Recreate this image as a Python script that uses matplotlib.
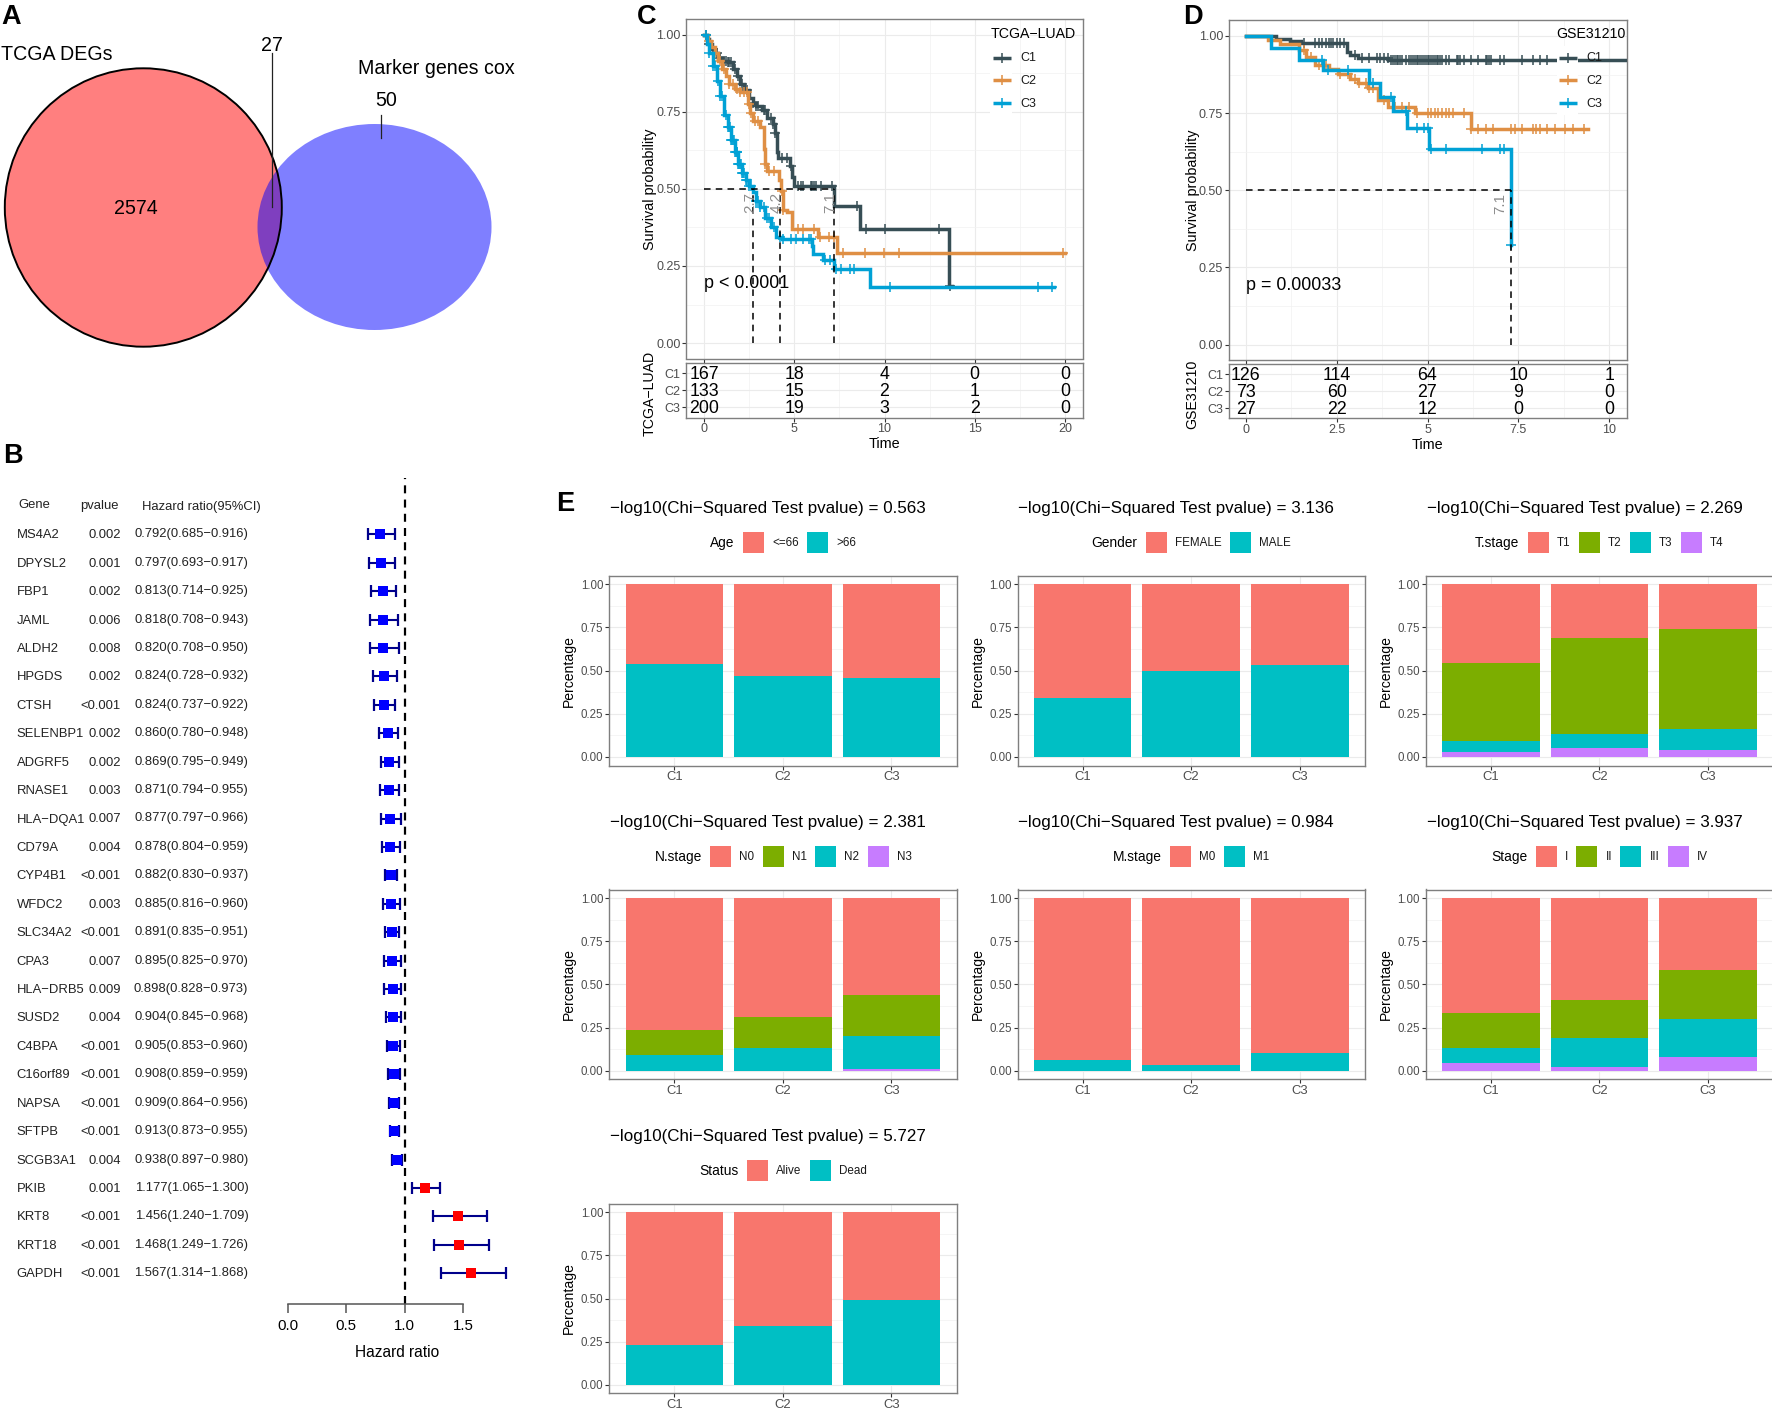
import matplotlib
matplotlib.use("Agg")
import matplotlib.pyplot as plt
from matplotlib.patches import Ellipse, Rectangle
import numpy as np

plt.rcParams['font.family'] = ['Liberation Sans', 'DejaVu Sans']
plt.rcParams['axes.unicode_minus'] = True

W, H = 1772, 1410

# forest plot
genes = ["MS4A2", "DPYSL2", "FBP1", "JAML", "ALDH2", "HPGDS", "CTSH", "SELENBP1", "ADGRF5", "RNASE1",
         "HLA\u2212DQA1", "CD79A", "CYP4B1", "WFDC2", "SLC34A2", "CPA3", "HLA\u2212DRB5", "SUSD2", "C4BPA",
         "C16orf89", "NAPSA", "SFTPB", "SCGB3A1", "PKIB", "KRT8", "KRT18", "GAPDH"]
pvals = ["0.002", "0.001", "0.002", "0.006", "0.008", "0.002", "<0.001", "0.002", "0.002", "0.003",
         "0.007", "0.004", "<0.001", "0.003", "<0.001", "0.007", "0.009", "0.004", "<0.001",
         "<0.001", "<0.001", "<0.001", "0.004", "0.001", "<0.001", "<0.001", "<0.001"]
hr = [0.792, 0.797, 0.813, 0.818, 0.820, 0.824, 0.824, 0.860, 0.869, 0.871, 0.877, 0.878, 0.882, 0.885,
      0.891, 0.895, 0.898, 0.904, 0.905, 0.908, 0.909, 0.913, 0.938, 1.177, 1.456, 1.468, 1.567]
hr_lo = [0.685, 0.693, 0.714, 0.708, 0.708, 0.728, 0.737, 0.780, 0.795, 0.794, 0.797, 0.804, 0.830, 0.816,
         0.835, 0.825, 0.828, 0.845, 0.853, 0.859, 0.864, 0.873, 0.897, 1.065, 1.240, 1.249, 1.314]
hr_hi = [0.916, 0.917, 0.925, 0.943, 0.950, 0.932, 0.922, 0.948, 0.949, 0.955, 0.966, 0.959, 0.937, 0.960,
         0.951, 0.970, 0.973, 0.968, 0.960, 0.959, 0.956, 0.955, 0.980, 1.300, 1.709, 1.726, 1.868]

# survival curves, TCGA-LUAD
c_t1 = [0, .15, .3, .45, .6, .8, 1.0, 1.3, 1.6, 1.8, 2.0, 2.2, 2.5, 2.7, 2.9, 3.2, 3.5, 3.8, 3.95, 4.05, 4.1,
        4.75, 4.9, 5.0, 7.18, 8.67, 13.6, 13.75]
c_s1 = [1, .985, .97, .955, .94, .925, .915, .91, .89, .865, .84, .82, .795, .78, .77, .755, .73, .71, .68, .62,
        .60, .575, .54, .508, .445, .37, .185, .185]
c_t2 = [0, .2, .4, .6, .8, 1.0, 1.2, 1.4, 1.7, 2.0, 2.45, 2.55, 2.7, 3.1, 3.3, 3.4, 3.5, 4.13, 4.25, 4.35, 4.6,
        4.9, 6.33, 7.38, 20.0]
c_s2 = [1, .98, .96, .94, .915, .89, .865, .84, .825, .815, .775, .745, .72, .70, .63, .58, .557, .53, .492, .43,
        .425, .37, .344, .292, .292]
c_t3 = [0, .15, .3, .5, .7, .9, 1.1, 1.3, 1.5, 1.7, 1.9, 2.1, 2.3, 2.5, 2.7, 2.9, 3.1, 3.4, 3.7, 4.0, 4.3, 5.97,
        6.02, 6.6, 7.2, 9.19, 19.4]
c_s3 = [1, .97, .94, .90, .85, .80, .74, .70, .66, .62, .58, .55, .53, .51, .49, .46, .44, .405, .375, .345, .338,
        .314, .29, .27, .24, .181, .181]
c_cens1 = [0.1, 0.3, 0.5, 0.7, 0.9, 1.0, 1.1, 1.2, 1.3, 1.4, 1.5, 1.7, 1.9, 2.1, 2.4, 2.7, 2.9, 3.0, 3.3, 3.4,
           3.7, 3.8, 3.95, 4.3, 4.6, 4.8, 5.2, 5.4, 5.5, 5.9, 6.0, 6.1, 6.2, 6.5, 7.1, 8.5, 9.0, 10.0, 13.0, 13.65]
c_cens2 = [0.3, 0.6, 0.9, 1.1, 1.4, 1.6, 1.8, 2.0, 2.2, 2.4, 2.5, 2.6, 2.8, 3.0, 3.4, 3.6, 3.9, 4.3, 4.4, 5.2,
           5.5, 6.1, 6.4, 6.9, 7.2, 7.7, 8.9, 9.95, 10.8, 19.9]
c_cens3 = [0.1, 0.3, 0.5, 0.6, 0.8, 0.9, 1.0, 1.2, 1.3, 1.4, 1.45, 1.5, 1.55, 1.6, 1.65, 1.7, 1.75, 1.8, 1.85, 1.9,
           1.95, 2.0, 2.05, 2.1, 2.15, 2.2, 2.3, 2.4, 2.5, 2.6, 2.9, 3.0, 3.1, 3.3, 3.5, 3.6, 3.9, 4.2, 4.4, 4.8,
           5.1, 5.5, 5.8, 5.9, 6.7, 7.0, 7.3, 7.6, 8.1, 8.3, 10.3, 18.5, 19.3]
c_medians = [2.73, 4.2, 7.18]
c_median_labels = ["2.7", "4.2", "7.1"]
c_ticks = [0, 5, 10, 15, 20]
c_risk = [[167, 18, 4, 0, 0], [133, 15, 2, 1, 0], [200, 19, 3, 2, 0]]

# survival curves, GSE31210
d_t1 = [0, .84, 1.2, 1.53, 2.77, 2.86, 3.09, 3.92, 10.6]
d_s1 = [1, .991, .984, .977, .948, .937, .93, .923, .923]
d_t2 = [0, .6, .93, 1.46, 1.66, 1.9, 2.29, 2.54, 2.86, 3.09, 3.37, 3.64, 3.92, 4.65, 6.2, 9.41]
d_s2 = [1, .988, .975, .954, .932, .905, .894, .876, .862, .846, .83, .792, .77, .749, .70, .70]
d_t3 = [0, .7, 1.46, 2.13, 3.39, 3.69, 4.06, 4.44, 5.05, 7.29, 7.3]
d_s3 = [1, .962, .923, .889, .848, .803, .757, .703, .635, .323, .323]
d_cens1 = [1.6, 1.9, 2.0, 2.1, 2.2, 2.3, 2.35, 2.4, 2.5, 2.6, 2.7, 3.0, 3.2, 3.4, 3.6, 3.7, 3.8, 3.9, 4.0, 4.05,
           4.1, 4.15, 4.2, 4.25, 4.3, 4.4, 4.5, 4.55, 4.6, 4.65, 4.7, 4.75, 4.8, 4.85, 4.9, 4.95, 5.0, 5.05, 5.1,
           5.15, 5.2, 5.25, 5.3, 5.35, 5.4, 5.5, 5.6, 5.8, 5.85, 5.9, 6.0, 6.2, 6.4, 6.6, 6.65, 6.7, 6.75, 7.0,
           7.1, 7.6, 7.9, 8.1, 8.3, 8.9]
d_cens2 = [1.6, 1.8, 2.0, 2.2, 2.6, 2.8, 3.0, 3.1, 3.3, 3.4, 3.5, 3.8, 4.1, 4.3, 4.5, 4.7, 5.0, 5.1, 5.2, 5.3,
           5.4, 5.5, 5.6, 5.7, 6.0, 6.2, 6.4, 6.6, 6.8, 7.3, 7.4, 7.6, 7.9, 8.0, 8.1, 8.3, 8.5, 8.8, 9.0, 9.3]
d_cens3 = [2.1, 2.25, 2.8, 3.5, 4.0, 4.4, 4.7, 4.9, 5.0, 5.1, 5.5, 6.5, 7.0, 7.1, 7.3]
d_medians = [7.29]
d_median_labels = ["7.1"]
d_ticks = [0, 2.5, 5, 7.5, 10]
d_tick_labels = ["0", "2.5", "5", "7.5", "10"]
d_risk = [[126, 114, 64, 10, 1], [73, 60, 27, 9, 0], [27, 22, 12, 0, 0]]

# stacked bars
groups = ["C1", "C2", "C3"]
age_title, age_p, age_levels = "Age", "0.563", ["<=66", ">66"]
age_vals = [[.46, .53, .54], [.54, .47, .46]]
gender_title, gender_p, gender_levels = "Gender", "3.136", ["FEMALE", "MALE"]
gender_vals = [[.66, .50, .47], [.34, .50, .53]]
t_title, t_p, t_levels = "T.stage", "2.269", ["T1", "T2", "T3", "T4"]
t_vals = [[.455, .31, .258], [.455, .56, .582], [.06, .08, .12], [.03, .05, .04]]
n_title, n_p, n_levels = "N.stage", "2.381", ["N0", "N1", "N2", "N3"]
n_vals = [[.767, .688, .56], [.141, .183, .24], [.092, .129, .19], [0, 0, .01]]
m_title, m_p, m_levels = "M.stage", "0.984", ["M0", "M1"]
m_vals = [[.94, .967, .90], [.06, .033, .10]]
stage_title, stage_p, stage_levels = "Stage", "3.937", ["I", "II", "III", "IV"]
stage_vals = [[.665, .59, .415], [.205, .22, .287], [.088, .169, .218], [.042, .021, .08]]
status_title, status_p, status_levels = "Status", "5.727", ["Alive", "Dead"]
status_vals = [[.77, .66, .51], [.23, .34, .49]]

km_colors = ["#374E55", "#DF8F44", "#00A1D5"]
col2 = ["#F8766D", "#00BFC4"]
col4 = ["#F8766D", "#7CAE00", "#00BFC4", "#C77CFF"]
border = "#7F7F7F"


def axes_px(left, top, right, bottom):
    return fig.add_axes([left / W, 1 - bottom / H, (right - left) / W, (bottom - top) / H])


def theme_bw(ax):
    ax.set_facecolor("white")
    ax.set_axisbelow(True)
    ax.grid(True, which="major", color="#EBEBEB", lw=0.8)
    ax.grid(True, which="minor", color="#F2F2F2", lw=0.5)
    ax.tick_params(which="minor", length=0)
    for s in ax.spines.values():
        s.set_color(border)
        s.set_linewidth(1.0)


fig = plt.figure(figsize=(W / 100, H / 100), dpi=100, facecolor="white")

# overlay in pixel coordinates for labels and the venn
ov = fig.add_axes([0, 0, 1, 1], zorder=10)
ov.set_xlim(0, W)
ov.set_ylim(H, 0)
ov.axis("off")
ov.patch.set_alpha(0)

for letter, x, y in [("A", 1, 24), ("B", 3, 463), ("C", 637, 24), ("D", 1183, 24), ("E", 556, 511)]:
    ov.text(x, y, letter, fontsize=19.5, fontweight="bold", ha="left", va="baseline", color="black")

# A
ov.add_patch(Ellipse((143.3, 207.5), 277, 278.4, fc=(1, 0, 0, .5), ec="none"))
ov.add_patch(Ellipse((374.5, 227), 234, 206, fc=(0, 0, 1, .5), ec="none"))
ov.add_patch(Ellipse((143.3, 207.5), 277, 278.4, fc="none", ec="black", lw=1.4))
ov.plot([272.3, 272.3], [53, 207], color="#222222", lw=0.9)
ov.plot([380.7, 380.7], [115, 138], color="#222222", lw=0.9)
ov.text(1, 54.5, "TCGA DEGs", fontsize=14.1, ha="left", va="center")
ov.text(358, 68, "Marker genes cox", fontsize=14.1, ha="left", va="center")
ov.text(272.3, 45.8, "27", fontsize=14.1, ha="center", va="center")
ov.text(386.5, 100.5, "50", fontsize=14.1, ha="center", va="center")
ov.text(135.5, 208.8, "2574", fontsize=14.1, ha="center", va="center")

# B
row0, row_h = 534.3, 28.42
axb = axes_px(287.5, 478, 287.5 + 1.95 * 117, 1304)
axb.set_xlim(0, 1.95)
axb.set_ylim((1304 - row0) / row_h, (478 - row0) / row_h)
axb.patch.set_alpha(0)
for side in ["top", "left", "right"]:
    axb.spines[side].set_visible(False)
axb.spines["bottom"].set_bounds(0, 1.5)
axb.spines["bottom"].set_color("#555555")
axb.spines["bottom"].set_linewidth(1.1)
axb.set_yticks([])
axb.set_xticks([0, .5, 1, 1.5])
axb.set_xticklabels(["0.0", "0.5", "1.0", "1.5"], fontsize=10.8)
axb.tick_params(axis="x", length=6.6, width=1.1, color="#555555", pad=4)
axb.axvline(1, color="black", lw=1.6, dashes=(3.6, 2.8), zorder=1)
rows = np.arange(len(genes))
hr_arr = np.array(hr)
axb.hlines(rows, hr_lo, hr_hi, color="#00008B", lw=1.5, zorder=2)
axb.plot(hr_lo, rows, ls="none", marker="|", ms=8, mew=1.6, color="#00008B", zorder=2)
axb.plot(hr_hi, rows, ls="none", marker="|", ms=8, mew=1.6, color="#00008B", zorder=2)
low = hr_arr < 1
axb.plot(hr_arr[low], rows[low], ls="none", marker="s", ms=7.6, mew=0, color="#0000FF", zorder=3)
axb.plot(hr_arr[~low], rows[~low], ls="none", marker="s", ms=7.6, mew=0, color="#FF0000", zorder=3)
ov.text(397, 1352.7, "Hazard ratio", fontsize=11.2, ha="center", va="center")
ov.text(18, 505, "Gene", fontsize=9.4, ha="left", va="center", color="#222222")
ov.text(80.4, 506, "pvalue", fontsize=9.4, ha="left", va="center", color="#222222")
ov.text(142, 507, "Hazard ratio(95%CI)", fontsize=9.4, ha="left", va="center", color="#222222")
for i, g in enumerate(genes):
    y = row0 + i * row_h + 1
    ov.text(16.6, y, g, fontsize=9.4, ha="left", va="center", color="#222222")
    ov.text(121, y, pvals[i], fontsize=9.4, ha="right", va="center", color="#222222")
    ov.text(248.3, y - 1, "%.3f(%.3f\u2212%.3f)" % (hr[i], hr_lo[i], hr_hi[i]), fontsize=9.4, ha="right",
            va="center", color="#222222")


# C, D
def km_panel(left, right, top, bottom, tab_top, tab_bottom, xlim, ticks, tick_labels, minor, curves, censors,
             medians, median_labels, med_dx, risk, name, ptext, key_x, key_bg, label_x, title_right):
    ax = axes_px(left, top, right, bottom)
    theme_bw(ax)
    ax.set_xlim(*xlim)
    ax.set_ylim(-.05, 1.05)
    ax.set_xticks(ticks)
    ax.set_xticks(minor, minor=True)
    ax.set_yticks([0, .25, .5, .75, 1])
    ax.set_yticks([.125, .375, .625, .875], minor=True)
    ax.set_yticklabels(["0.00", "0.25", "0.50", "0.75", "1.00"], fontsize=9.0, color="#4D4D4D")
    ax.set_xticklabels([])
    ax.tick_params(which="major", length=3, width=0.8, color="#333333", pad=0.8)

    for (t, s), cens, col in zip(curves, censors, km_colors):
        t = np.array(t)
        s = np.array(s)
        ax.plot(t, s, drawstyle="steps-post", color=col, lw=2.5, solid_joinstyle="miter", zorder=3)
        idx = np.searchsorted(t, cens, side="right") - 1
        ax.plot(cens, s[idx], ls="none", marker="+", ms=7.5, mew=1.1, color=col, zorder=3)
    ax.plot([0, max(medians)], [.5, .5], color="black", lw=1.1, dashes=(4.3, 3.4), zorder=4)
    for m, lab in zip(medians, median_labels):
        ax.plot([m, m], [0, .5], color="black", lw=1.1, dashes=(4.3, 3.4), zorder=4)
        ax.annotate(lab, (m, .5), xytext=(med_dx, -2), textcoords="offset points", rotation=90, fontsize=11,
                    color="#8C8C8C", ha="center", va="top", zorder=5)
    ax.text(0, .192, ptext, fontsize=12.9, ha="left", va="center", zorder=5)
    ax.set_ylabel("Survival probability", fontsize=10.4, va="center")
    ax.yaxis.set_label_coords(-36 / (right - left), .5)

    # legend
    ov.text(title_right, 33.5, name, fontsize=10.2, ha="right", va="center")
    for y, col, lab in zip([57.6, 80.4, 103.2], km_colors, ["C1", "C2", "C3"]):
        ov.add_patch(Rectangle((key_bg, y - 11.4), 21.5, 22.8, fc="white", ec="none"))
        ov.plot(key_x, [y, y], color=col, lw=2.5, solid_capstyle="butt")
        ov.plot([np.mean(key_x)], [y], marker="+", ms=7.5, mew=1.1, color=col)
        ov.text(label_x, y + .5, lab, fontsize=9, ha="left", va="center", color="#1A1A1A")

    # risk table
    tab = axes_px(left, tab_top, right, tab_bottom)
    theme_bw(tab)
    tab.set_xlim(*xlim)
    tab.set_ylim(3.6, .4)
    tab.set_xticks(ticks)
    tab.set_xticks(minor, minor=True)
    tab.set_xticklabels(tick_labels, fontsize=9, color="#4D4D4D")
    tab.set_yticks([1, 2, 3])
    tab.set_yticklabels(["C1", "C2", "C3"], fontsize=9, color="#4D4D4D")
    tab.tick_params(which="major", length=3, width=0.8, color="#333333", pad=0.8)
    for r, row in enumerate(risk):
        for x, v in zip(ticks, row):
            tab.text(x, r + 1.05, str(v), fontsize=12.8, ha="center", va="center", color="black")
    tab.set_xlabel("Time", fontsize=10.4, labelpad=1.5)
    tab.set_ylabel(name, fontsize=10.2, va="center")
    tab.yaxis.set_label_coords(-36 / (right - left), .45)
    return ax


km_panel(686, 1083, 19.3, 358.5, 363, 417.5, (-1, 21), c_ticks, [str(x) for x in c_ticks],
         [2.5, 7.5, 12.5, 17.5], [(c_t1, c_s1), (c_t2, c_s2), (c_t3, c_s3)], [c_cens1, c_cens2, c_cens3],
         c_medians, c_median_labels, -2.5, c_risk, "TCGA\u2212LUAD", "p < 0.0001", [992.7, 1010.7], 990.5, 1020.7, 1075.7)
km_panel(1228.5, 1626.5, 20.5, 360, 364, 418.5, (-.48, 10.48), d_ticks, d_tick_labels,
         [1.25, 3.75, 6.25, 8.75], [(d_t1, d_s1), (d_t2, d_s2), (d_t3, d_s3)], [d_cens1, d_cens2, d_cens3],
         d_medians, d_median_labels, -7.5, d_risk, "GSE31210", "p = 0.00033", [1559, 1577.3], 1557, 1586.7, 1626)


# E
def legend_row(cx, y, title, levels, colors):
    rend = fig.canvas.get_renderer()
    tt = ov.text(0, y + .5, title, fontsize=9.9, ha="left", va="center")
    labs = [ov.text(0, y + .5, lv, fontsize=8.4, ha="left", va="center", color="#1A1A1A") for lv in levels]
    tw = tt.get_window_extent(rend).width
    lw = [t.get_window_extent(rend).width for t in labs]
    total = tw + sum(8.5 + 21 + 8 + w for w in lw)
    x = cx - total / 2
    tt.set_x(x)
    x += tw
    for t, w, c in zip(labs, lw, colors):
        x += 8.5
        ov.add_patch(Rectangle((x, y - 10.5), 21, 21, fc=c, ec="none"))
        x += 21 + 8
        t.set_x(x)
        x += w


def bar_panel(left, top, p, title, levels, vals):
    right, bottom = left + 347.3, top + 189.8
    ax = axes_px(left, top, right, bottom)
    theme_bw(ax)
    ax.set_xlim(.4, 3.6)
    ax.set_ylim(-.05, 1.05)
    colors = col2 if len(levels) == 2 else col4
    x = np.arange(1, 4)
    vals = np.array(vals, dtype=float)
    for i, c in enumerate(colors):
        ax.bar(x, vals[i], width=.9, bottom=vals[i + 1:].sum(axis=0), color=c, linewidth=0, zorder=2)
    ax.set_xticks(x)
    ax.set_xticklabels(groups, fontsize=9.4, color="#4D4D4D")
    ax.set_yticks([0, .25, .5, .75, 1])
    ax.set_yticks([.125, .375, .625, .875], minor=True)
    ax.set_yticklabels(["0.00", "0.25", "0.50", "0.75", "1.00"], fontsize=8.3, color="#4D4D4D")
    ax.tick_params(which="major", length=3, width=0.8, color="#333333", pad=1.2)
    ax.set_ylabel("Percentage", fontsize=10.1, va="center")
    ax.yaxis.set_label_coords(-40 / 347.3, .5)
    ov.text(left + 1, top - 67.5, "\u2212log10(Chi\u2212Squared Test pvalue) = " + p, fontsize=12.25, ha="left",
            va="center")
    legend_row((left + right) / 2, top - 33, title, levels, colors)


col_x = [609.3, 1017.5, 1425.7]
row_y = [575.7, 889.5, 1203.6]
bar_panel(col_x[0], row_y[0], age_p, age_title, age_levels, age_vals)
bar_panel(col_x[1], row_y[0], gender_p, gender_title, gender_levels, gender_vals)
bar_panel(col_x[2], row_y[0], t_p, t_title, t_levels, t_vals)
bar_panel(col_x[0], row_y[1], n_p, n_title, n_levels, n_vals)
bar_panel(col_x[1], row_y[1], m_p, m_title, m_levels, m_vals)
bar_panel(col_x[2], row_y[1], stage_p, stage_title, stage_levels, stage_vals)
bar_panel(col_x[0], row_y[2], status_p, status_title, status_levels, status_vals)

fig.savefig("out.png", dpi=100)
